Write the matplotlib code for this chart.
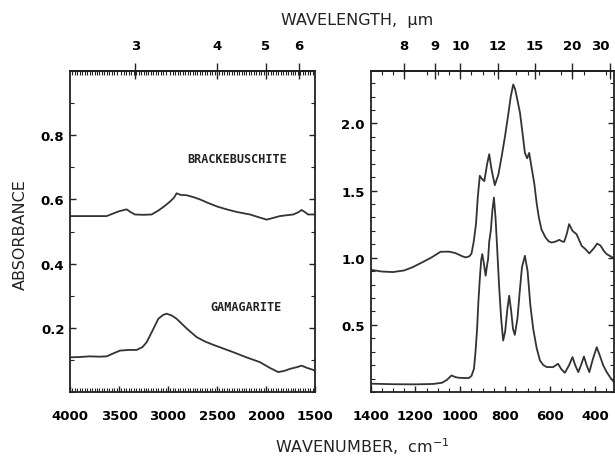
import numpy as np
import matplotlib.pyplot as plt
from matplotlib.ticker import MultipleLocator, FixedLocator, NullLocator

# ---- left panel: 4000-1500 cm-1 ----
wn_left_b = [4000, 3800, 3626, 3560, 3500, 3422, 3380, 3337, 3250, 3167, 3100, 3040,
             2980, 2940, 2912, 2870, 2810, 2740, 2674, 2600, 2500, 2402, 2300, 2164,
             2080, 1994, 1930, 1858, 1780, 1722, 1670, 1637, 1600, 1572, 1500]
brack_left = [0.548, 0.548, 0.548, 0.556, 0.563, 0.569, 0.560, 0.553, 0.552, 0.553, 0.565, 0.578,
              0.593, 0.605, 0.619, 0.614, 0.613, 0.607, 0.600, 0.590, 0.578, 0.569, 0.561, 0.553,
              0.545, 0.537, 0.542, 0.548, 0.551, 0.553, 0.560, 0.567, 0.560, 0.553, 0.553]

wn_left_g = [4000, 3900, 3800, 3700, 3626, 3560, 3490, 3400, 3320, 3260, 3218, 3160,
             3099, 3050, 3014, 2960, 2912, 2810, 2708, 2620, 2538, 2440, 2334, 2200,
             2062, 1960, 1875, 1810, 1756, 1690, 1637, 1580, 1500]
gama_left = [0.108, 0.109, 0.111, 0.110, 0.111, 0.120, 0.129, 0.131, 0.131, 0.140, 0.155, 0.190,
             0.228, 0.240, 0.244, 0.238, 0.228, 0.198, 0.171, 0.157, 0.147, 0.136, 0.124, 0.108,
             0.093, 0.075, 0.062, 0.066, 0.072, 0.077, 0.082, 0.075, 0.067]

# ---- right panel: 1400-300 cm-1 ----
wn_right_b = [1400, 1350, 1300, 1250, 1214, 1170, 1130, 1088, 1050, 1021, 990, 976, 960,
              950, 940, 930, 922, 913, 905, 893, 880, 871, 860, 846, 830, 815, 801, 785,
              775, 764, 755, 745, 734, 722, 712, 702, 693, 683, 670, 660, 650, 638, 620,
              605, 593, 575, 559, 545, 537, 525, 515, 500, 482, 470, 459, 440, 425, 405,
              390, 375, 360, 348, 330, 315]
brack_right = [0.910, 0.897, 0.893, 0.905, 0.928, 0.965, 1.000, 1.044, 1.045, 1.034, 1.010, 1.002, 1.010,
               1.030, 1.120, 1.250, 1.450, 1.610, 1.590, 1.570, 1.700, 1.770, 1.650, 1.540, 1.620, 1.760, 1.900, 2.080,
               2.200, 2.290, 2.250, 2.170, 2.080, 1.920, 1.780, 1.740, 1.780, 1.680, 1.550, 1.410, 1.300, 1.210, 1.150,
               1.120, 1.113, 1.120, 1.133, 1.120, 1.118, 1.180, 1.250, 1.200, 1.175, 1.130, 1.088, 1.060, 1.032, 1.070,
               1.105, 1.090, 1.050, 1.027, 1.010, 0.995]

wn_right_g = [1400, 1300, 1200, 1120, 1081, 1060, 1039, 1020, 1006, 980, 962, 950, 939,
              932, 925, 919, 913, 907, 902, 895, 887, 880, 876, 871, 864, 857, 850, 843,
              835, 827, 818, 809, 800, 790, 782, 773, 765, 757, 745, 735, 725, 712, 700,
              688, 675, 660, 645, 630, 615, 600, 586, 564, 550, 534, 515, 500, 488, 474,
              462, 449, 437, 425, 410, 392, 378, 363, 348, 333, 315]
gama_right = [0.062, 0.058, 0.057, 0.060, 0.069, 0.090, 0.123, 0.110, 0.106, 0.104, 0.104, 0.120, 0.173,
              0.300, 0.470, 0.680, 0.840, 0.980, 1.027, 0.960, 0.866, 0.950, 0.990, 1.120, 1.200, 1.350, 1.448, 1.300,
              1.050, 0.790, 0.550, 0.383, 0.450, 0.620, 0.717, 0.600, 0.470, 0.425, 0.550, 0.750, 0.930, 1.014, 0.900,
              0.650, 0.470, 0.330, 0.235, 0.200, 0.186, 0.185, 0.186, 0.210, 0.170, 0.143, 0.200, 0.260, 0.200, 0.148,
              0.200, 0.264, 0.200, 0.148, 0.240, 0.334, 0.270, 0.198, 0.150, 0.111, 0.074]

um_left = [3, 4, 5, 6]
um_right = [8, 9, 10, 12, 15, 20, 30]

line_col = "#333333"
tick_font = {"family": ["Liberation Sans Narrow", "DejaVu Sans"], "weight": "bold", "size": 9.5}


def to_um(x):
    x = np.asarray(x, dtype=float)
    return 1e4 / np.where(x == 0, 1e-9, x)


def style_axes(ax, xmajor, xminor, ymajor, um_ticks):
    for s in ax.spines.values():
        s.set_linewidth(1.3)
        s.set_color("#222222")
    ax.xaxis.set_major_locator(MultipleLocator(xmajor))
    ax.xaxis.set_minor_locator(MultipleLocator(xminor))
    ax.yaxis.set_major_locator(FixedLocator(ymajor))
    ax.yaxis.set_minor_locator(MultipleLocator(0.1))
    ax.tick_params(which="both", direction="in", left=True, right=True, color="#222222")
    ax.tick_params(which="major", length=4, width=1.0, pad=12, top=False)
    ax.tick_params(which="minor", length=3, width=0.8, top=True)
    ax.tick_params(axis="y", which="major", pad=4)
    for lab in ax.get_xticklabels() + ax.get_yticklabels():
        lab.set_fontfamily(tick_font["family"])
        lab.set_fontweight("bold")
        lab.set_fontsize(tick_font["size"])

    sec = ax.secondary_xaxis("top", functions=(to_um, to_um))
    sec.set_xticks(um_ticks)
    sec.set_xticklabels([str(u) for u in um_ticks])
    sec.xaxis.set_minor_locator(NullLocator())
    sec.tick_params(direction="inout", length=12, width=1.0, pad=8, color="#222222")
    sec.spines["top"].set_linewidth(1.3)
    for lab in sec.get_xticklabels():
        lab.set_fontfamily(tick_font["family"])
        lab.set_fontweight("bold")
        lab.set_fontsize(tick_font["size"])
    return sec


fig = plt.figure(figsize=(6.15, 4.6), dpi=100)

ax1 = fig.add_axes([70 / 615, 67 / 460, 245 / 615, 321 / 460])
ax1.plot(wn_left_b, brack_left, color=line_col, lw=1.3)
ax1.plot(wn_left_g, gama_left, color=line_col, lw=1.3)
ax1.set_xlim(4000, 1500)
ax1.set_ylim(0, 1.0)
style_axes(ax1, 500, 25, [0.2, 0.4, 0.6, 0.8], um_left)
ax1.set_yticklabels(["0.2", "0.4", "0.6", "0.8"])
ax1.text(2290, 0.728, "BRACKEBUSCHITE", ha="center", va="center",
         family="DejaVu Sans Mono", weight="bold", fontsize=8.5, color="#222222")
ax1.text(2205, 0.267, "GAMAGARITE", ha="center", va="center",
         family="DejaVu Sans Mono", weight="bold", fontsize=8.5, color="#222222")

ax2 = fig.add_axes([370.5 / 615, 67 / 460, 243.5 / 615, 321 / 460])
ax2.plot(wn_right_b, brack_right, color=line_col, lw=1.3)
ax2.plot(wn_right_g, gama_right, color=line_col, lw=1.3)
ax2.set_xlim(1400, 315)
ax2.set_ylim(0, 2.39)
sec2 = style_axes(ax2, 200, 50, [0.5, 1.0, 1.5, 2.0], um_right)
ax2.set_yticklabels(["0.5", "1.0", "1.5", "2.0"])
ax2.tick_params(which="minor", top=True, length=3)
# last wavelength label sits on the figure edge; keep it inside
sec2.get_xticklabels()[-1].set_horizontalalignment("right")

fig.text(357 / 615, 1 - 20 / 460, "WAVELENGTH,  \u00b5m", ha="center", va="center",
         fontsize=11.5, color="#222222")
fig.text(362 / 615, 1 - 447 / 460, "WAVENUMBER,  cm$^{-1}$", ha="center", va="center",
         fontsize=11.5, color="#222222")
fig.text(20 / 615, 1 - 235 / 460, "ABSORBANCE", ha="center", va="center",
         rotation=90, fontsize=11.5, color="#222222")

fig.savefig("out.png", dpi=100)
